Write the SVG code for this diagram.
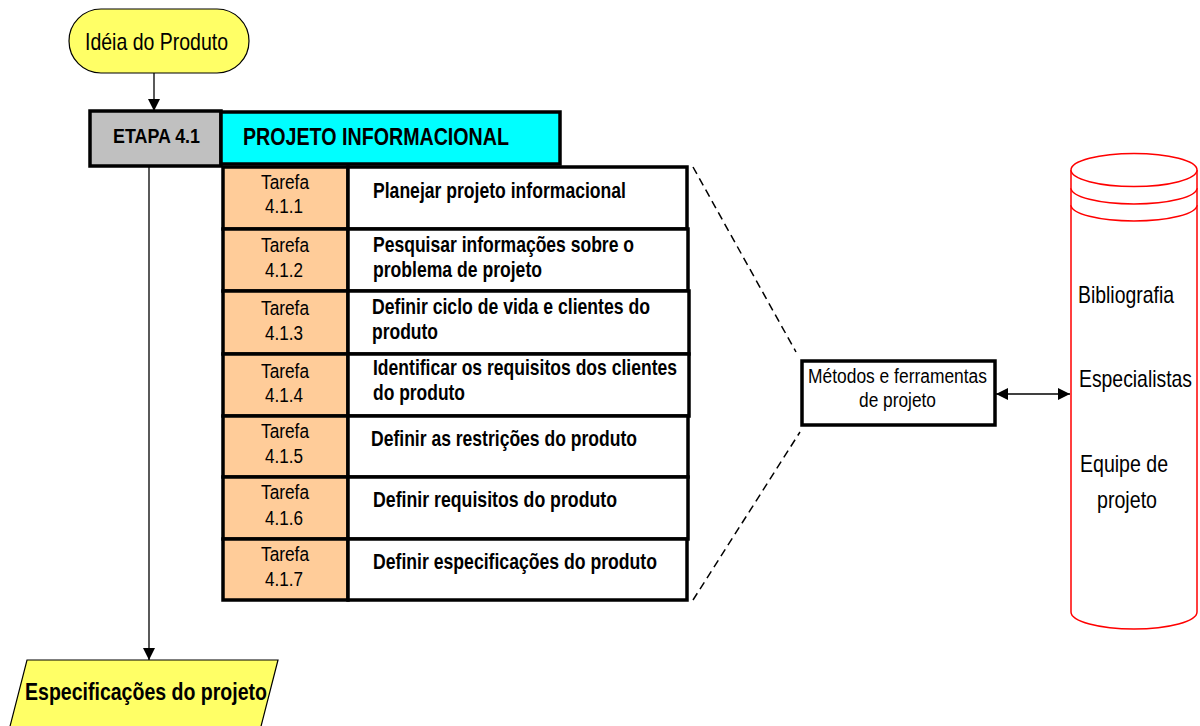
<svg xmlns="http://www.w3.org/2000/svg" width="1200" height="726" viewBox="0 0 1200 726">
<defs>
<style>
.t{font-family:"Liberation Sans Narrow","Liberation Sans",Arial,sans-serif;fill:#000}
.b{font-weight:bold}
.cell{stroke:#000;stroke-width:3.5}
.tar{fill:#FFCC99}
.desc{fill:#fff}
.tn{font-size:20.5px}
.ds{font-size:21.5px;font-weight:bold}
.conn{stroke:#000;stroke-width:1.3;fill:none}
.dash{stroke:#000;stroke-width:1.5;fill:none;stroke-dasharray:8 5}
.cyl{stroke:#FF0000;stroke-width:1.5;fill:#fff}
</style>
<marker id="arr" viewBox="0 0 10 10" refX="10" refY="5" markerWidth="14" markerHeight="12" markerUnits="userSpaceOnUse" orient="auto-start-reverse">
<path d="M0,0 L10,5 L0,10 z" fill="#000"/>
</marker>
</defs>
<rect width="1200" height="726" fill="#fff"/>

<g id="connectors">
<line class="conn" x1="154" y1="73" x2="154" y2="111" marker-end="url(#arr)"/>
<line class="conn" x1="149" y1="166" x2="149" y2="660" marker-end="url(#arr)"/>
<line class="dash" x1="693" y1="167" x2="796" y2="352"/>
<line class="dash" x1="693" y1="600" x2="800" y2="432"/>
<line class="conn" x1="996" y1="394" x2="1070" y2="394" marker-start="url(#arr)" marker-end="url(#arr)"/>
</g>

<g id="ideia">
<rect x="69" y="9" width="180" height="64" rx="32" ry="32" fill="#FFFF66" stroke="#000" stroke-width="1.2"/>
<text class="t" x="85" y="50" font-size="24" textLength="143" lengthAdjust="spacingAndGlyphs">Idéia do Produto</text>
</g>

<g id="etapa">
<rect x="90" y="111" width="131" height="55" fill="#C0C0C0" stroke="#000" stroke-width="3.5"/>
<text class="t b" x="113" y="143" font-size="21" textLength="87" lengthAdjust="spacingAndGlyphs">ETAPA 4.1</text>
</g>

<g id="projeto">
<rect x="221" y="112" width="339" height="52" fill="#00FFFF" stroke="#000" stroke-width="3.5"/>
<text class="t b" x="243" y="145" font-size="24" textLength="266" lengthAdjust="spacingAndGlyphs">PROJETO INFORMACIONAL</text>
</g>

<g id="tarefa-4-1-1">
<rect class="cell tar" x="223" y="167" width="125" height="62"/>
<rect class="cell desc" x="348" y="167" width="339" height="62"/>
<text class="t tn" x="261" y="189" textLength="48" lengthAdjust="spacingAndGlyphs">Tarefa</text>
<text class="t tn" x="265" y="213" textLength="38" lengthAdjust="spacingAndGlyphs">4.1.1</text>
<text class="t ds" x="373" y="198" textLength="253" lengthAdjust="spacingAndGlyphs">Planejar projeto informacional</text>
</g>

<g id="tarefa-4-1-2">
<rect class="cell tar" x="223" y="229" width="125" height="62"/>
<rect class="cell desc" x="348" y="229" width="340" height="62"/>
<text class="t tn" x="261" y="252" textLength="48" lengthAdjust="spacingAndGlyphs">Tarefa</text>
<text class="t tn" x="265" y="277" textLength="38" lengthAdjust="spacingAndGlyphs">4.1.2</text>
<text class="t ds" x="373" y="252" textLength="261" lengthAdjust="spacingAndGlyphs">Pesquisar informações sobre o</text>
<text class="t ds" x="373" y="277" textLength="169" lengthAdjust="spacingAndGlyphs">problema de projeto</text>
</g>

<g id="tarefa-4-1-3">
<rect class="cell tar" x="223" y="291" width="125" height="63"/>
<rect class="cell desc" x="348" y="291" width="341" height="63"/>
<text class="t tn" x="261" y="315" textLength="48" lengthAdjust="spacingAndGlyphs">Tarefa</text>
<text class="t tn" x="265" y="340" textLength="38" lengthAdjust="spacingAndGlyphs">4.1.3</text>
<text class="t ds" x="372" y="314" textLength="278" lengthAdjust="spacingAndGlyphs">Definir ciclo de vida e clientes do</text>
<text class="t ds" x="372" y="339" textLength="66" lengthAdjust="spacingAndGlyphs">produto</text>
</g>

<g id="tarefa-4-1-4">
<rect class="cell tar" x="223" y="354" width="125" height="62"/>
<rect class="cell desc" x="348" y="354" width="341" height="62"/>
<text class="t tn" x="261" y="378" textLength="48" lengthAdjust="spacingAndGlyphs">Tarefa</text>
<text class="t tn" x="265" y="402" textLength="38" lengthAdjust="spacingAndGlyphs">4.1.4</text>
<text class="t ds" x="373" y="375" textLength="304" lengthAdjust="spacingAndGlyphs">Identificar os requisitos dos clientes</text>
<text class="t ds" x="373" y="400" textLength="92" lengthAdjust="spacingAndGlyphs">do produto</text>
</g>

<g id="tarefa-4-1-5">
<rect class="cell tar" x="223" y="416" width="125" height="61"/>
<rect class="cell desc" x="348" y="416" width="340" height="61"/>
<text class="t tn" x="261" y="438" textLength="48" lengthAdjust="spacingAndGlyphs">Tarefa</text>
<text class="t tn" x="265" y="463" textLength="38" lengthAdjust="spacingAndGlyphs">4.1.5</text>
<text class="t ds" x="371" y="446" textLength="266" lengthAdjust="spacingAndGlyphs">Definir as restrições do produto</text>
</g>

<g id="tarefa-4-1-6">
<rect class="cell tar" x="223" y="477" width="125" height="62"/>
<rect class="cell desc" x="348" y="477" width="340" height="62"/>
<text class="t tn" x="261" y="499" textLength="48" lengthAdjust="spacingAndGlyphs">Tarefa</text>
<text class="t tn" x="265" y="525" textLength="38" lengthAdjust="spacingAndGlyphs">4.1.6</text>
<text class="t ds" x="373" y="507" textLength="244" lengthAdjust="spacingAndGlyphs">Definir requisitos do produto</text>
</g>

<g id="tarefa-4-1-7">
<rect class="cell tar" x="223" y="539" width="125" height="61"/>
<rect class="cell desc" x="348" y="539" width="339" height="61"/>
<text class="t tn" x="261" y="561" textLength="48" lengthAdjust="spacingAndGlyphs">Tarefa</text>
<text class="t tn" x="265" y="586" textLength="38" lengthAdjust="spacingAndGlyphs">4.1.7</text>
<text class="t ds" x="373" y="569" textLength="284" lengthAdjust="spacingAndGlyphs">Definir especificações do produto</text>
</g>

<g id="metodos">
<rect x="802" y="361" width="193" height="64" fill="#fff" stroke="#000" stroke-width="3.5"/>
<text class="t" x="808" y="383" font-size="20" textLength="179" lengthAdjust="spacingAndGlyphs">Métodos e ferramentas</text>
<text class="t" x="859" y="407" font-size="20" textLength="77" lengthAdjust="spacingAndGlyphs">de projeto</text>
</g>

<g id="recursos">
<path class="cyl" d="M1071,170 L1071,612 A63,17 0 0 0 1197,612 L1197,170"/>
<ellipse class="cyl" cx="1134" cy="170" rx="63" ry="16.5"/>
<path class="cyl" fill="none" d="M1071,188 A63,16 0 0 0 1197,188"/>
<path class="cyl" fill="none" d="M1071,205 A63,16 0 0 0 1197,205"/>
<text class="t" x="1078" y="303" font-size="24" textLength="96" lengthAdjust="spacingAndGlyphs">Bibliografia</text>
<text class="t" x="1079" y="387" font-size="24" textLength="113" lengthAdjust="spacingAndGlyphs">Especialistas</text>
<text class="t" x="1080" y="472" font-size="24" textLength="88" lengthAdjust="spacingAndGlyphs">Equipe de</text>
<text class="t" x="1097" y="508" font-size="24" textLength="60" lengthAdjust="spacingAndGlyphs">projeto</text>
</g>

<g id="especificacoes">
<polygon points="27,660 278,660 257,742 6,742" fill="#FFFF66" stroke="#000" stroke-width="1.2"/>
<text class="t b" x="25" y="700" font-size="24" textLength="242" lengthAdjust="spacingAndGlyphs">Especificações do projeto</text>
</g>
</svg>
